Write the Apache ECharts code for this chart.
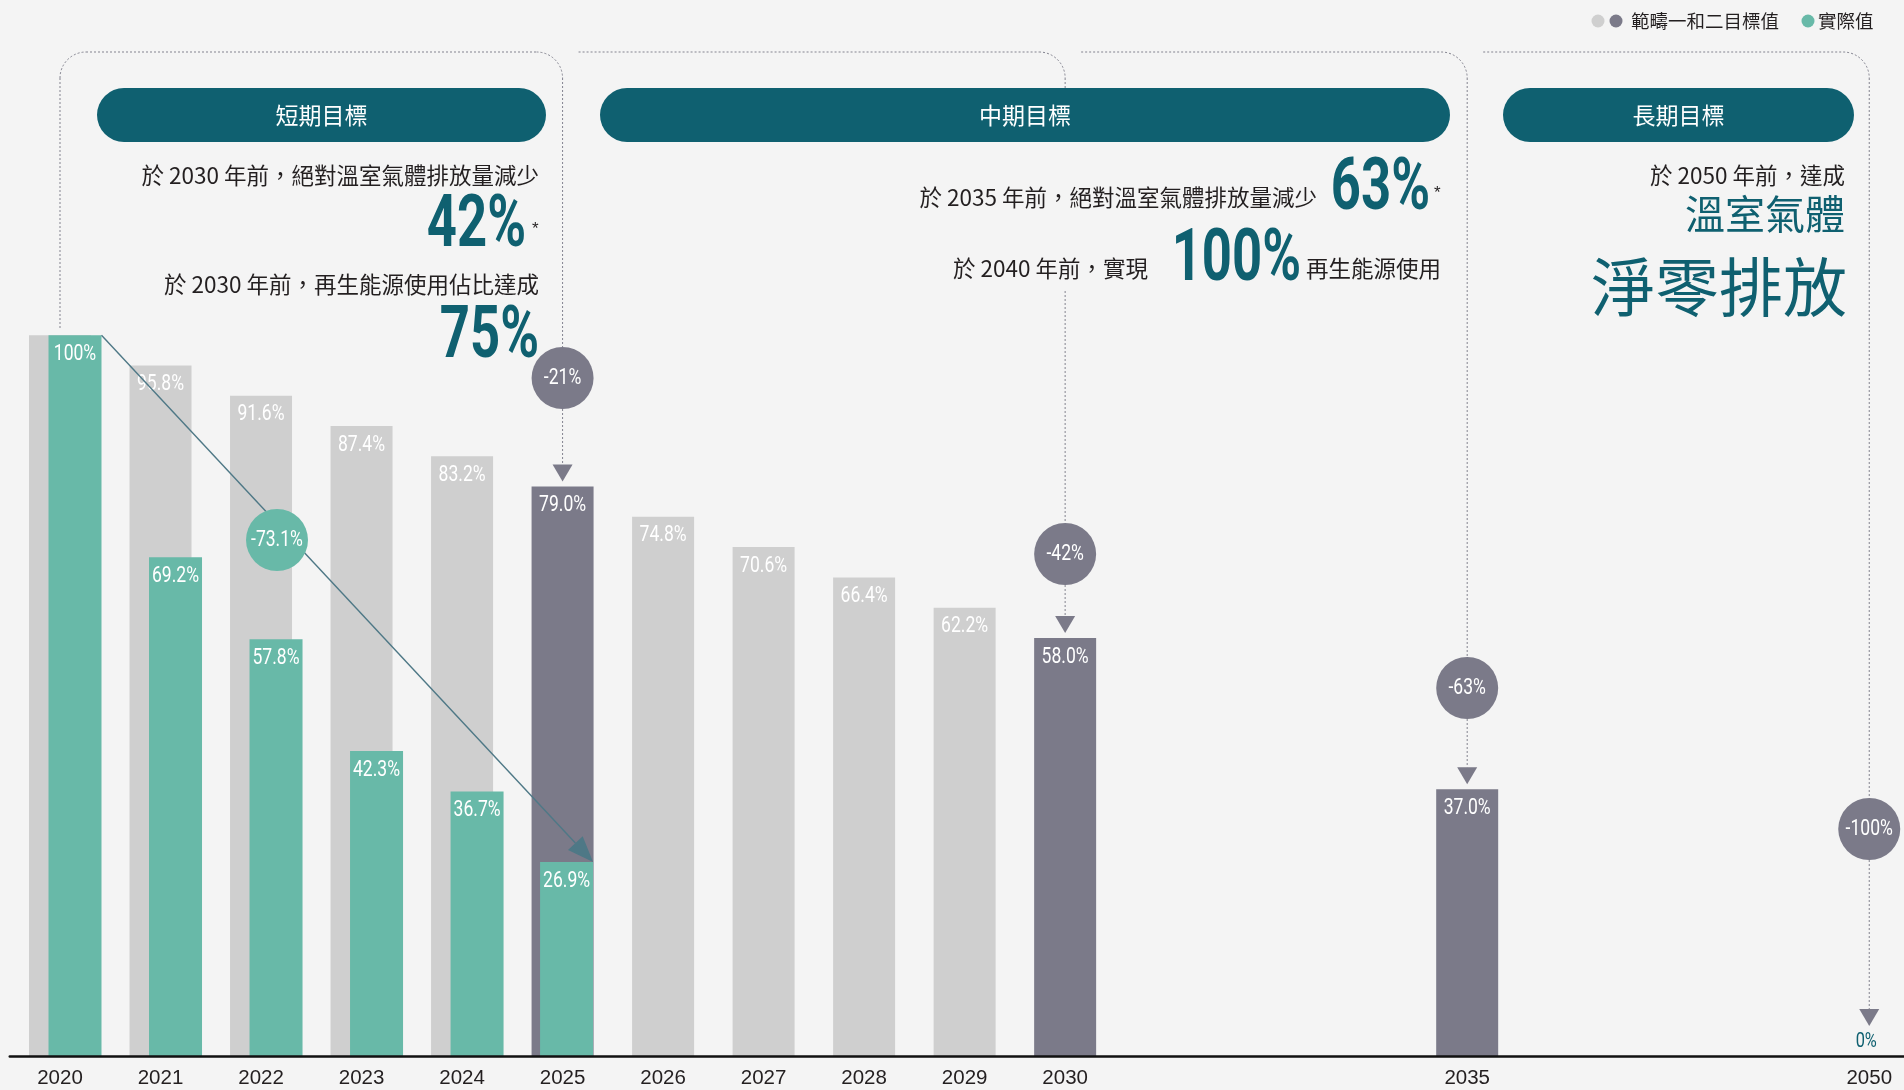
<!DOCTYPE html>
<html>
<head>
<meta charset="utf-8">
<title>溫室氣體減量目標</title>
<script src="https://cdn.jsdelivr.net/npm/echarts@6/dist/echarts.min.js"></script>
<style>
  html, body { margin: 0; padding: 0; background: #f4f4f4; overflow: hidden; }
  /* slightly wider than the window: the last axis slot runs past the right edge */
  #chart { width: 1920px; height: 1090px; }
</style>
</head>
<body>
<div id="chart"></div>
<script>
// axis slots: 2031-2034 and 2036-2049 are folded into three empty slots each
const categories = ['2020', '2021', '2022', '2023', '2024', '2025', '2026', '2027', '2028', '2029', '2030',
    '', '', '', '2035', '', '', '', '2050'];

// scope 1 + 2 targets (2020 = 100%)
const targetYears = ['2020', '2021', '2022', '2023', '2024', '2025', '2026', '2027', '2028', '2029', '2030', '2035', '2050'];
const targetValues = [100, 95.8, 91.6, 87.4, 83.2, 79.0, 74.8, 70.6, 66.4, 62.2, 58.0, 37.0, 0];

// actual values
const actualYears = ['2020', '2021', '2022', '2023', '2024', '2025'];
const actualValues = [100, 69.2, 57.8, 42.3, 36.7, 26.9];

// milestone years and their reduction bubbles
const milestoneYears = ['2025', '2030', '2035', '2050'];
const milestoneCuts = ['-21%', '-42%', '-63%', '-100%'];
const actualCut = '-73.1%';

const C = {
    gray: '#cfcfcf',
    dark: '#7b7a89',
    teal: '#68b9a8',
    navy: '#0f6070',
    arrow: '#4e7886',
    dash: '#83838f',
    text: '#231f20'
};
const COND = 'Roboto, "Liberation Sans", sans-serif';
const CJK = '"Noto Sans CJK TC", "Noto Sans CJK SC", sans-serif';
const SQUEEZE = 0.78;
const BAR_W = 62;
const ACT_W = 53;

const fmtPct = v => (v === 100 || v === 0) ? v + '%' : v.toFixed(1) + '%';

// condensed-looking label: a normal face squeezed horizontally
const condText = (text, x, y, fill, size, align) => ({
    type: 'text',
    x, y,
    scaleX: SQUEEZE,
    style: {
        text, x: 0, y: 0,
        align: align || 'center', verticalAlign: 'middle',
        fill, fontSize: size || 22.5, fontFamily: COND
    }
});

const chart = echarts.init(document.getElementById('chart'));

const renderTarget = (params, api) => {
    const idx = api.value(0);
    const v = api.value(1);
    const top = api.coord([idx, v]);
    const base = api.coord([idx, 0]);
    const year = categories[idx];
    if (v === 0) {
        return condText(fmtPct(v), top[0] - 3, top[1] - 14, C.navy, 21);
    }
    const milestone = milestoneYears.indexOf(year) >= 0;
    const children = [{
        type: 'rect',
        shape: { x: top[0] - BAR_W / 2, y: top[1], width: BAR_W, height: base[1] - top[1] },
        style: { fill: milestone ? C.dark : C.gray }
    }];
    const ai = actualYears.indexOf(year);
    if (!(ai >= 0 && actualValues[ai] === v)) {
        children.push(condText(fmtPct(v), top[0], top[1] + 19, '#ffffff'));
    }
    return { type: 'group', children };
};

const actualShift = i => (i === actualValues.length - 1 ? 4 : 15);

const renderActual = (params, api) => {
    const idx = api.value(0);
    const v = api.value(1);
    const top = api.coord([idx, v]);
    const base = api.coord([idx, 0]);
    const cx = top[0] + actualShift(params.dataIndex);
    return {
        type: 'group',
        children: [{
            type: 'rect',
            shape: { x: cx - ACT_W / 2, y: top[1], width: ACT_W, height: base[1] - top[1] },
            style: { fill: C.teal }
        }, condText(fmtPct(v), cx, top[1] + 19, '#ffffff')]
    };
};

const option = {
    backgroundColor: '#f4f4f4',
    animation: false,
    grid: { left: 9.75, right: 0.5, top: 0, bottom: 34 },
    xAxis: {
        type: 'category',
        data: categories,
        axisTick: { show: false },
        axisLine: { lineStyle: { color: '#111111', width: 2.5 } },
        axisLabel: {
            interval: 0, margin: 12,
            color: C.text, fontSize: 20.5,
            fontFamily: '"Liberation Sans", Arial, sans-serif'
        },
        z: 5
    },
    yAxis: { type: 'value', min: 0, max: 146.5, show: false },
    series: [
        {
            name: '範疇一和二目標值',
            type: 'custom',
            renderItem: renderTarget,
            data: targetYears.map((y, i) => [categories.indexOf(y), targetValues[i]]),
            z: 2
        },
        {
            name: '實際值',
            type: 'custom',
            renderItem: renderActual,
            data: actualYears.map((y, i) => [categories.indexOf(y), actualValues[i]]),
            z: 3
        }
    ]
};

chart.setOption(option);

// ---- annotations ----
const pt = (idx, v) => chart.convertToPixel({ gridIndex: 0 }, [idx, v]);

const TOP_Y = 52;
const RAD = 26;
const BUBBLE_R = 31;
const ARROW_H = 17;
const ARROW_W = 20;
const bubbleY = [378, 554, 688, 829];
const frameGaps = { '2030': [88, 291] };

const dashStyle = { stroke: C.dash, lineWidth: 1, lineDash: [2, 2], fill: null };
const graphics = [];

const seg = (x1, y1, x2, y2) => {
    if (x1 === x2 && y2 <= y1) return;
    graphics.push({ type: 'line', z: 10, shape: { x1, y1, x2, y2 }, style: dashStyle });
};
const corner = (cx, cy, a0, a1) => {
    graphics.push({
        type: 'arc', z: 10,
        shape: { cx, cy, r: RAD, startAngle: a0, endAngle: a1, clockwise: true },
        style: dashStyle
    });
};

const bubble = (x, y, text, fill) => {
    graphics.push({ type: 'circle', z: 20, shape: { cx: x, cy: y, r: BUBBLE_R }, style: { fill } });
    graphics.push(Object.assign(condText(text, x, y, '#ffffff'), { z: 21 }));
};

let prevX = null;
milestoneYears.forEach((year, i) => {
    const idx = categories.indexOf(year);
    const v = targetValues[targetYears.indexOf(year)];
    const [x, barTop] = pt(idx, v);
    const cy = bubbleY[i];

    // top frame
    let startX;
    if (prevX === null) {
        const [x0, y0] = pt(0, targetValues[0]);
        seg(x0, TOP_Y + RAD, x0, y0 - 7);
        corner(x0 + RAD, TOP_Y + RAD, Math.PI, Math.PI * 1.5);
        startX = x0 + RAD;
    } else {
        startX = prevX + 16;
    }
    seg(startX, TOP_Y, x - RAD, TOP_Y);
    corner(x - RAD, TOP_Y + RAD, -Math.PI / 2, 0);

    const gap = frameGaps[year];
    if (gap) {
        seg(x, TOP_Y + RAD, x, gap[0]);
        seg(x, gap[1], x, cy - BUBBLE_R);
    } else {
        seg(x, TOP_Y + RAD, x, cy - BUBBLE_R);
    }

    // arrow down to the bar
    const tip = barTop - (v === 0 ? 30 : 5);
    seg(x, cy + BUBBLE_R, x, tip - ARROW_H);
    graphics.push({
        type: 'polygon', z: 10,
        shape: { points: [[x - ARROW_W / 2, tip - ARROW_H], [x + ARROW_W / 2, tip - ARROW_H], [x, tip]] },
        style: { fill: C.dark }
    });
    bubble(x, cy, milestoneCuts[i], C.dark);
    prevX = x;
});

// diagonal arrow over the actual bars
(() => {
    const last = actualValues.length - 1;
    const p0 = pt(categories.indexOf(actualYears[0]), actualValues[0]);
    const p1 = pt(categories.indexOf(actualYears[last]), actualValues[last]);
    const sx = p0[0] + actualShift(0) + ACT_W / 2, sy = p0[1];
    const ex = p1[0] + actualShift(last) + ACT_W / 2, ey = p1[1];
    const len = Math.hypot(ex - sx, ey - sy);
    const ux = (ex - sx) / len, uy = (ey - sy) / len;
    const bx = ex - ux * 26, by = ey - uy * 26;
    graphics.push({
        type: 'line', z: 15,
        shape: { x1: sx, y1: sy, x2: bx, y2: by },
        style: { stroke: C.arrow, lineWidth: 1.4 }
    });
    graphics.push({
        type: 'polygon', z: 15,
        shape: { points: [[ex, ey], [bx - uy * 10, by + ux * 10], [bx + uy * 10, by - ux * 10]] },
        style: { fill: C.arrow }
    });
    bubble(277, 540, actualCut, C.teal);
})();

// pills
const pill = (x0, x1, text) => {
    graphics.push({
        type: 'rect', z: 12,
        shape: { x: x0, y: 88, width: x1 - x0, height: 54, r: 27 },
        style: { fill: C.navy }
    });
    graphics.push({
        type: 'text', z: 13,
        style: {
            text, x: (x0 + x1) / 2, y: 115, align: 'center', verticalAlign: 'middle',
            fill: '#ffffff', fontSize: 23, fontFamily: CJK
        }
    });
};
pill(97, 546, '短期目標');
pill(600, 1450, '中期目標');
pill(1503, 1854, '長期目標');

const txt = (text, x, y, opts) => {
    graphics.push({
        type: 'text', z: 13,
        style: Object.assign({
            text, x, y, align: 'right', verticalAlign: 'middle',
            fill: C.text, fontSize: 22.5, fontFamily: CJK
        }, opts || {})
    });
};
const big = (text, x, y) => {
    graphics.push({
        type: 'text', z: 13, x, y: y + 5, scaleX: 0.73,
        style: {
            text, x: 0, y: 0, align: 'right', verticalAlign: 'middle',
            fill: C.navy, fontSize: 72, fontWeight: 'bold', fontFamily: COND
        }
    });
};
const star = { align: 'left', fontSize: 17, fontFamily: '"Liberation Sans", Arial, sans-serif' };

// short term
txt('於 2030 年前，絕對溫室氣體排放量減少', 539, 175);
big('42%', 526, 223);
txt('*', 532, 229, star);
txt('於 2030 年前，再生能源使用佔比達成', 539, 284);
big('75%', 539, 334);

// mid term
txt('於 2035 年前，絕對溫室氣體排放量減少', 1317, 197);
big('63%', 1430, 186);
txt('*', 1434, 193, star);
txt('於 2040 年前，實現', 1148, 268);
big('100%', 1301, 257);
txt('再生能源使用', 1441, 268);

// long term
txt('於 2050 年前，達成', 1845, 175);
txt('溫室氣體', 1845, 214, { fill: C.navy, fontSize: 40 });
txt('淨零排放', 1847, 287, { fill: C.navy, fontSize: 64 });

// legend
graphics.push({ type: 'circle', z: 13, shape: { cx: 1598, cy: 21, r: 6.5 }, style: { fill: C.gray } });
graphics.push({ type: 'circle', z: 13, shape: { cx: 1616, cy: 21, r: 6.5 }, style: { fill: C.dark } });
txt('範疇一和二目標值', 1631, 21, { align: 'left', fontSize: 18.5 });
graphics.push({ type: 'circle', z: 13, shape: { cx: 1808, cy: 21, r: 6.5 }, style: { fill: C.teal } });
txt('實際值', 1818, 21, { align: 'left', fontSize: 18.5 });

chart.setOption({ graphic: graphics });

window.addEventListener('resize', () => chart.resize());
</script>
</body>
</html>
